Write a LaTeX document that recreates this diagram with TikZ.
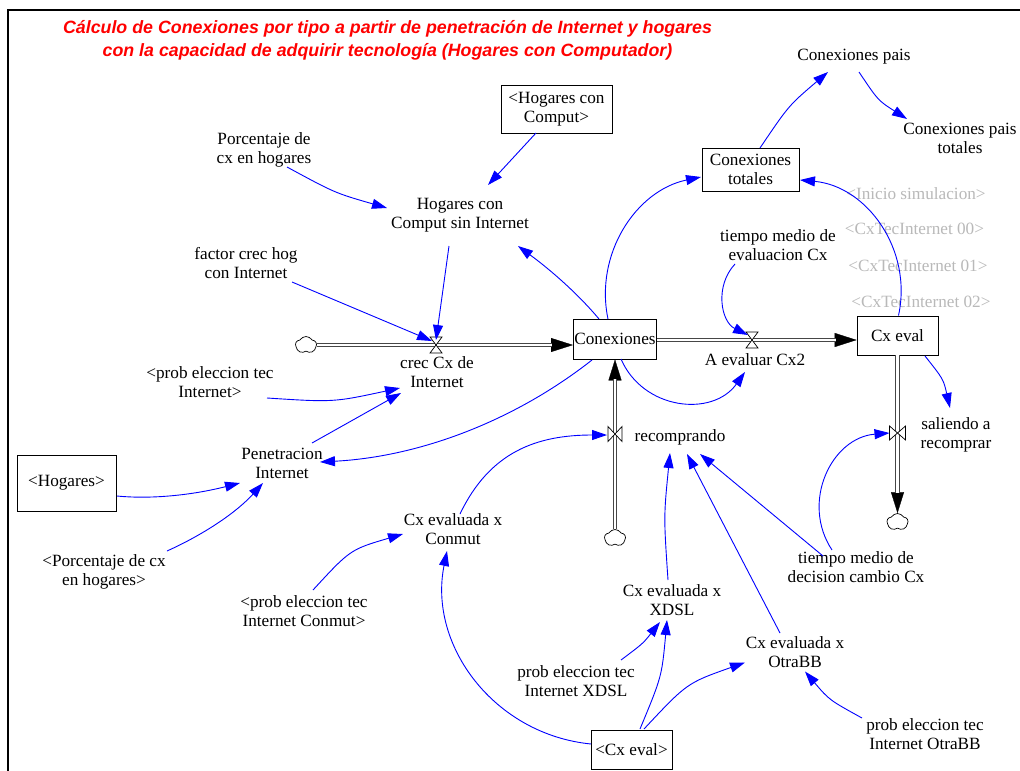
\documentclass[tikz,border=0pt]{standalone}
\usepackage{fontspec}
\setmainfont{Liberation Serif}
\newfontfamily\titlefont{Liberation Sans}
\usetikzlibrary{arrows.meta,shapes.symbols}
\newcommand{\vsfont}{\fontsize{17.2}{19}\selectfont}
\definecolor{vblue}{RGB}{0,0,255}
\definecolor{tred}{RGB}{255,0,0}
\definecolor{shadow}{RGB}{185,185,185}
\definecolor{pipegray}{RGB}{70,70,70}
\begin{document}
\begin{tikzpicture}[x=1pt,y=-1pt,
  var/.style={align=center, inner sep=1pt, font=\vsfont},
  ghost/.style={var, text=shadow},
  box/.style={draw, line width=0.8pt, align=center, inner sep=1pt, font=\vsfont},
  vnode/.style={inner sep=0pt, minimum size=1pt},
  cloudy/.style={cloud, cloud puffs=5, cloud puff arc=120, aspect=1.3, draw, fill=white, line width=0.7pt, minimum width=21pt, minimum height=17pt, inner sep=0pt},
  valve/.style={draw, fill=white, line width=0.7pt, line join=miter},
  arr/.style={draw=vblue, line width=0.9pt, -{Triangle[length=15pt,width=10pt]}},
  pipe/.style={draw=pipegray, double=white, double distance=2.4pt, line width=1.2pt},
  pipetip/.style={draw=black, line width=0.3pt, -{Triangle[length=22pt,width=14pt]}},
  pipetipv/.style={draw=black, line width=0.3pt, -{Triangle[length=21pt,width=13pt]}},
  title/.style={font={\titlefont\fontsize{17.8}{22.4}\selectfont\bfseries\itshape}, text=tred, align=center, inner sep=0pt}
]
\useasboundingbox (0,0) rectangle (1020,771);
\fill[white] (0,0) rectangle (1020,771);
\draw[line width=2.2pt] (8,771) -- (8,10) -- (1020,10);

\node[title, anchor=north] (title) at (387.5,20.5) {Cálculo de Conexiones por tipo a partir de penetración de Internet y hogares\\con la capacidad de adquirir tecnología (Hogares con Computador)};

% boxes
\node[box, minimum width=111pt, minimum height=48pt] (hcc) at (556.5,109) {<Hogares con\\Comput>};
\node[box, minimum width=99pt, minimum height=56pt] (hog) at (66.5,483) {<Hogares>};
\node[box, minimum width=82pt, minimum height=40pt] (cx) at (615,339) {Conexiones};
\node[box, minimum width=81pt, minimum height=39pt] (cxe) at (897.5,335.5) {Cx eval};
\node[box, minimum width=97pt, minimum height=43pt] (ctot) at (750.5,169.5) {Conexiones\\totales};
\node[box, minimum width=81pt, minimum height=39pt] (cxev2) at (631.5,749.5) {<Cx eval>};

% variables
\node[var] (pct) at (264,149.5) {Porcentaje de\\cx en hogares};
\node[var] (hcs) at (460,215.5) {Hogares con\\Comput sin Internet};
\node[var] (fch) at (246,263.5) {factor crec hog\\con Internet};
\node[var] (crec) at (437,372.5) {crec Cx de\\Internet};
\node[var] (petI) at (210,382.5) {<prob eleccion tec\\Internet>};
\node[var] (pen) at (282,463.5) {Penetracion\\Internet};
\node[var] (pcx) at (104,572) {<Porcentaje de cx\\en hogares>};
\node[var] (conm) at (453,529) {Cx evaluada x\\Conmut};
\node[var] (pconm) at (304,611.5) {<prob eleccion tec\\Internet Conmut>};
\node[var] (rec) at (680,437) {recomprando};
\node[var] (cpais) at (854,57) {Conexiones pais};
\node[var] (cpt) at (960,138) {Conexiones pais\\totales};
\node[var] (tev) at (778,245.5) {tiempo medio de\\evaluacion Cx};
\node[var] (aev) at (755,360) {A evaluar Cx2};
\node[var] (sal) at (956,434.5) {saliendo a\\recomprar};
\node[var] (tdc) at (856,567.5) {tiempo medio de\\decision cambio Cx};
\node[var] (xdsl) at (672,600) {Cx evaluada x\\XDSL};
\node[var] (otra) at (795,652.5) {Cx evaluada x\\OtraBB};
\node[var] (pxdsl) at (576,681) {prob eleccion tec\\Internet XDSL};
\node[var] (potra) at (925,734) {prob eleccion tec\\Internet OtraBB};
\node[ghost] (gini) at (916,194) {<Inicio simulacion>};
\node[ghost] (g00) at (914.5,229) {<CxTecInternet 00>};
\node[ghost] (g01) at (918,266) {<CxTecInternet 01>};
\node[ghost] (g02) at (921,302) {<CxTecInternet 02>};

% clouds and valves
\node[cloudy] (cloudL) at (306,345) {};
\node[cloudy] (cloudB) at (615,538) {};
\node[cloudy] (cloudR) at (897.5,522) {};
\node[vnode] (vcrec) at (436,345) {};
\node[vnode] (vaev) at (752,340) {};
\node[vnode] (vrec) at (615,434) {};
\node[vnode] (vsal) at (897.5,433) {};

% pipes
\draw[pipetip] (cloudL.east) -- (cloudL.east -| cx.west);
\draw[pipe, shorten >=21pt] (cloudL.east) -- (cloudL.east -| cx.west);
\draw[pipetip] (cx.east |- vaev) -- (cxe.west |- vaev);
\draw[pipe, shorten >=21pt] (cx.east |- vaev) -- (cxe.west |- vaev);
\draw[pipetipv] (cloudB.north) -- (cx.south);
\draw[pipe, shorten >=20pt] (cloudB.north) -- (cx.south);
\draw[pipetipv] (cxe.south) -- (cloudR.north);
\draw[pipe, shorten >=20pt] (cxe.south) -- (cloudR.north);

\draw[valve] ([shift={(-6,-8)}]vcrec.center) -- ++(12,0) -- ++(-12,16) -- ++(12,0) -- cycle;
\draw[valve] ([shift={(-6,-8)}]vaev.center) -- ++(12,0) -- ++(-12,16) -- ++(12,0) -- cycle;
\draw[valve] ([shift={(-7,-7.5)}]vrec.center) -- ++(0,15) -- ++(14,-15) -- ++(0,15) -- cycle;
\draw[valve] ([shift={(-8,-7)}]vsal.center) -- ++(0,14) -- ++(16,-14) -- ++(0,14) -- cycle;

% connectors
\draw[arr] ([shift={(-20.5,24)}]hcc.center) -- ([shift={(28,-30.5)}]hcs.center);
\draw[arr] ([shift={(23,17.5)}]pct.center) .. controls (335,193) .. ([shift={(-73,-7.5)}]hcs.center);
\draw[arr] ([shift={(-11,30.5)}]hcs.center) -- ([shift={(0,-5)}]vcrec.center);
\draw[arr] ([shift={(46,18.5)}]fch.center) -- ([shift={(-4,-4)}]vcrec.center);
\draw[arr] ([shift={(-16,-20)}]cx.center) .. controls (579,295) and (552,271) .. ([shift={(58,30.5)}]hcs.center);
\draw[arr] ([shift={(-7,-20)}]cx.center) .. controls (594.3,254.1) and (636,190.5) .. ([shift={(-49.5,7.5)}]ctot.center);
\draw[arr] ([shift={(57,15.5)}]petI.center) .. controls (333.5,402.3) .. ([shift={(-37,15.5)}]crec.center);
\draw[arr] ([shift={(30,-20.5)}]pen.center) -- ([shift={(-36,20.5)}]crec.center);
\draw[arr] ([shift={(-23,21)}]cx.center) .. controls (514,421.3) and (419,456.8) .. ([shift={(38,-1.5)}]pen.center);
\draw[arr] ([shift={(50.5,13)}]hog.center) .. controls (151.3,499.4) and (192.3,495.1) .. ([shift={(-42,19.5)}]pen.center);
\draw[arr] ([shift={(63,-21)}]pcx.center) .. controls (203.9,534.4) and (236.5,512.4) .. ([shift={(-19,19.5)}]pen.center);
\draw[arr] ([shift={(6,20)}]cx.center) .. controls (643.2,410.2) and (712.6,417.4) .. ([shift={(-10,12)}]aev.center);
\draw[arr] ([shift={(-43,18.5)}]tev.center) .. controls (714.4,286.1) and (720.9,321.7) .. ([shift={(-4,-5)}]vaev.center);
\draw[arr] ([shift={(1,-20)}]cxe.center) .. controls (912.9,249.6) and (866.8,186.2) .. ([shift={(49.5,10.5)}]ctot.center);
\draw[arr] ([shift={(9.5,-21.5)}]ctot.center) .. controls (788.8,105.4) .. ([shift={(-26,15)}]cpais.center);
\draw[arr] ([shift={(5,15)}]cpais.center) .. controls (878.1,100.5) .. ([shift={(-53,-19)}]cpt.center);
\draw[arr] ([shift={(27.5,20.5)}]cxe.center) .. controls (943.4,379.2) .. ([shift={(-6,-26.5)}]sal.center);
\draw[arr] ([shift={(-24,-17.5)}]tdc.center) .. controls (800.3,502) and (831.7,437.6) .. ([shift={(-8,0)}]vsal.center);
\draw[arr] ([shift={(-33,-11.5)}]tdc.center) -- ([shift={(20,17)}]rec.center);
\draw[arr] ([shift={(7,-15)}]conm.center) .. controls (489.8,451.6) and (537,435) .. ([shift={(-8,1)}]vrec.center);
\draw[arr] ([shift={(-4,-20)}]xdsl.center) .. controls (663.7,516.5) .. ([shift={(-10,16)}]rec.center);
\draw[arr] ([shift={(-15,-19.5)}]otra.center) -- ([shift={(7,17)}]rec.center);
\draw[arr] ([shift={(9,-21.5)}]pconm.center) .. controls (350.3,549.5) .. ([shift={(-50,5)}]conm.center);
\draw[arr] ([shift={(-40.5,-5.5)}]cxev2.center) .. controls (494.2,734.4) and (427.9,645.3) .. ([shift={(-6,22)}]conm.center);
\draw[arr] ([shift={(45,-21)}]pxdsl.center) .. controls (643,643.5) .. ([shift={(-12,22)}]xdsl.center);
\draw[arr] ([shift={(8.5,-20.5)}]cxev2.center) .. controls (661.8,676.5) .. ([shift={(-5,20)}]xdsl.center);
\draw[arr] ([shift={(12.5,-20.5)}]cxev2.center) .. controls (687,683) .. ([shift={(-50,10)}]otra.center);
\draw[arr] ([shift={(-63,-16)}]potra.center) .. controls (829.3,700) .. ([shift={(10,19)}]otra.center);
\end{tikzpicture}
\end{document}
